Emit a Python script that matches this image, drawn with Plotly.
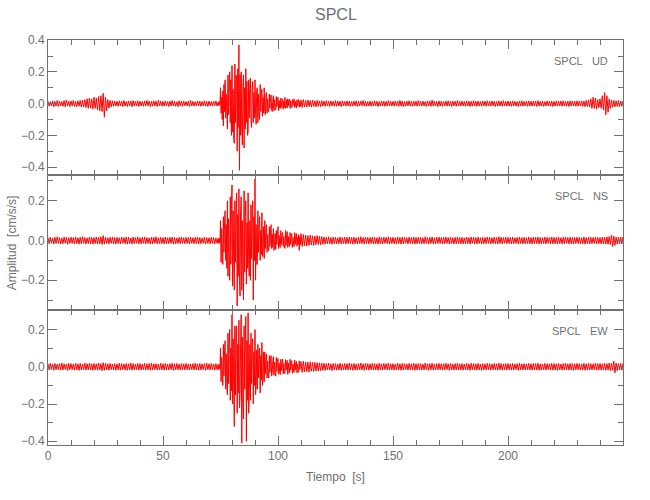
import numpy as np
import plotly.graph_objects as go
from plotly.subplots import make_subplots

# ---- data: per-second max / min of acceleration (cm/s/s), t = 0..250 s ----
seconds = list(range(0, 251))

ud_hi = [
 0.015,0.012,0.018,0.014,0.020,0.016,0.013,0.019,0.022,0.015,
 0.017,0.020,0.014,0.018,0.020,0.022,0.025,0.030,0.035,0.030,
 0.040,0.035,0.045,0.050,0.065,0.040,0.025,0.020,0.018,0.016,
 0.014,0.018,0.015,0.020,0.013,0.017,0.016,0.019,0.014,0.018,
 0.015,0.013,0.017,0.020,0.016,0.014,0.018,0.015,0.021,0.016,
 0.014,0.017,0.013,0.016,0.019,0.015,0.012,0.018,0.014,0.016,
 0.013,0.016,0.019,0.014,0.012,0.017,0.015,0.013,0.018,0.014,
 0.016,0.013,0.015,0.017,0.014,0.100,0.120,0.150,0.180,0.200,
 0.240,0.250,0.220,0.370,0.200,0.180,0.220,0.150,0.160,0.140,
 0.150,0.100,0.120,0.090,0.100,0.070,0.060,0.055,0.050,0.045,
 0.040,0.035,0.030,0.040,0.030,0.028,0.025,0.030,0.024,0.026,
 0.022,0.025,0.020,0.023,0.019,0.022,0.018,0.020,0.017,0.019,
 0.016,0.018,0.015,0.017,0.014,0.019,0.016,0.015,0.018,0.014,
 0.017,0.015,0.013,0.016,0.018,0.014,0.016,0.020,0.015,0.013,
 0.016,0.014,0.018,0.015,0.013,0.017,0.016,0.014,0.019,0.015,
 0.014,0.017,0.015,0.020,0.016,0.013,0.015,0.018,0.014,0.016,
 0.015,0.019,0.014,0.016,0.013,0.017,0.015,0.022,0.016,0.014,
 0.017,0.015,0.013,0.016,0.018,0.014,0.016,0.015,0.019,0.014,
 0.016,0.013,0.017,0.015,0.014,0.018,0.015,0.016,0.013,0.017,
 0.015,0.018,0.014,0.016,0.015,0.013,0.017,0.015,0.019,0.014,
 0.016,0.014,0.017,0.015,0.013,0.016,0.018,0.014,0.015,0.017,
 0.014,0.016,0.015,0.019,0.014,0.016,0.013,0.017,0.015,0.016,
 0.014,0.017,0.015,0.016,0.018,0.014,0.015,0.017,0.016,0.015,
 0.017,0.015,0.018,0.016,0.020,0.022,0.030,0.040,0.035,0.025,
 0.030,0.050,0.070,0.050,0.030,0.022,0.020,0.018,0.020,0.017,
 0.016]
ud_lo = [
 -0.016,-0.014,-0.020,-0.015,-0.018,-0.013,-0.017,-0.020,-0.015,-0.018,
 -0.015,-0.018,-0.020,-0.016,-0.022,-0.020,-0.025,-0.030,-0.028,-0.035,
 -0.030,-0.040,-0.045,-0.050,-0.085,-0.045,-0.028,-0.020,-0.017,-0.015,
 -0.017,-0.014,-0.019,-0.015,-0.018,-0.013,-0.020,-0.016,-0.015,-0.018,
 -0.014,-0.017,-0.015,-0.013,-0.019,-0.016,-0.014,-0.018,-0.015,-0.017,
 -0.016,-0.013,-0.018,-0.015,-0.014,-0.017,-0.019,-0.014,-0.016,-0.013,
 -0.015,-0.018,-0.014,-0.016,-0.013,-0.015,-0.017,-0.014,-0.016,-0.018,
 -0.014,-0.016,-0.013,-0.015,-0.017,-0.100,-0.140,-0.120,-0.160,-0.200,
 -0.220,-0.250,-0.300,-0.420,-0.260,-0.280,-0.200,-0.180,-0.150,-0.120,
 -0.130,-0.120,-0.100,-0.080,-0.070,-0.060,-0.050,-0.050,-0.045,-0.040,
 -0.045,-0.030,-0.035,-0.030,-0.028,-0.030,-0.026,-0.024,-0.027,-0.023,
 -0.024,-0.021,-0.022,-0.019,-0.021,-0.018,-0.020,-0.017,-0.019,-0.016,
 -0.017,-0.015,-0.018,-0.014,-0.016,-0.017,-0.015,-0.019,-0.014,-0.016,
 -0.015,-0.017,-0.016,-0.014,-0.018,-0.015,-0.013,-0.016,-0.017,-0.015,
 -0.017,-0.015,-0.014,-0.018,-0.016,-0.014,-0.017,-0.015,-0.013,-0.016,
 -0.016,-0.014,-0.017,-0.015,-0.019,-0.016,-0.014,-0.015,-0.017,-0.014,
 -0.017,-0.015,-0.016,-0.014,-0.018,-0.015,-0.017,-0.016,-0.014,-0.019,
 -0.015,-0.017,-0.014,-0.016,-0.015,-0.018,-0.014,-0.017,-0.015,-0.016,
 -0.014,-0.017,-0.015,-0.018,-0.016,-0.014,-0.017,-0.015,-0.016,-0.014,
 -0.017,-0.015,-0.016,-0.014,-0.018,-0.016,-0.015,-0.017,-0.014,-0.016,
 -0.015,-0.017,-0.014,-0.016,-0.018,-0.015,-0.016,-0.014,-0.017,-0.015,
 -0.016,-0.014,-0.018,-0.015,-0.016,-0.017,-0.015,-0.014,-0.016,-0.018,
 -0.015,-0.016,-0.014,-0.017,-0.015,-0.016,-0.018,-0.015,-0.014,-0.017,
 -0.016,-0.015,-0.017,-0.019,-0.018,-0.020,-0.030,-0.030,-0.035,-0.025,
 -0.030,-0.040,-0.070,-0.055,-0.030,-0.022,-0.020,-0.018,-0.019,-0.017,
 -0.016]

ns_hi = [
 0.014,0.017,0.013,0.016,0.019,0.015,0.012,0.018,0.016,0.014,
 0.017,0.015,0.018,0.014,0.016,0.020,0.015,0.013,0.017,0.016,
 0.015,0.018,0.016,0.019,0.025,0.017,0.014,0.016,0.018,0.015,
 0.016,0.014,0.017,0.015,0.018,0.016,0.013,0.017,0.015,0.019,
 0.014,0.016,0.018,0.015,0.013,0.017,0.016,0.019,0.014,0.016,
 0.015,0.018,0.014,0.016,0.017,0.015,0.013,0.016,0.018,0.014,
 0.016,0.015,0.017,0.014,0.016,0.018,0.015,0.013,0.016,0.015,
 0.014,0.016,0.015,0.013,0.015,0.100,0.120,0.150,0.200,0.220,
 0.280,0.200,0.240,0.260,0.220,0.250,0.200,0.240,0.180,0.200,
 0.310,0.150,0.120,0.140,0.100,0.080,0.070,0.080,0.060,0.050,
 0.070,0.050,0.040,0.050,0.045,0.040,0.035,0.040,0.035,0.030,
 0.035,0.030,0.028,0.025,0.027,0.024,0.022,0.025,0.021,0.020,
 0.018,0.016,0.019,0.015,0.017,0.016,0.014,0.018,0.015,0.017,
 0.016,0.018,0.015,0.017,0.014,0.016,0.019,0.015,0.017,0.016,
 0.015,0.017,0.016,0.014,0.018,0.015,0.017,0.016,0.019,0.015,
 0.016,0.014,0.018,0.015,0.017,0.016,0.014,0.017,0.015,0.018,
 0.015,0.017,0.016,0.014,0.019,0.015,0.016,0.018,0.014,0.016,
 0.017,0.015,0.016,0.018,0.015,0.017,0.014,0.016,0.018,0.015,
 0.016,0.014,0.017,0.015,0.018,0.016,0.015,0.017,0.014,0.016,
 0.015,0.018,0.016,0.014,0.017,0.015,0.019,0.016,0.015,0.017,
 0.016,0.015,0.017,0.014,0.016,0.018,0.015,0.016,0.014,0.017,
 0.015,0.017,0.016,0.018,0.015,0.014,0.017,0.016,0.015,0.018,
 0.016,0.015,0.017,0.014,0.016,0.018,0.015,0.017,0.016,0.015,
 0.017,0.016,0.014,0.018,0.015,0.017,0.016,0.015,0.018,0.016,
 0.015,0.017,0.016,0.018,0.020,0.028,0.022,0.017,0.016,0.018,
 0.017]
ns_lo = [
 -0.016,-0.013,-0.018,-0.015,-0.014,-0.017,-0.016,-0.013,-0.019,-0.015,
 -0.014,-0.017,-0.015,-0.018,-0.016,-0.014,-0.017,-0.015,-0.016,-0.018,
 -0.015,-0.017,-0.016,-0.020,-0.018,-0.015,-0.017,-0.014,-0.016,-0.018,
 -0.015,-0.017,-0.014,-0.016,-0.018,-0.015,-0.017,-0.016,-0.014,-0.017,
 -0.016,-0.014,-0.017,-0.015,-0.018,-0.016,-0.014,-0.017,-0.015,-0.016,
 -0.017,-0.015,-0.016,-0.014,-0.018,-0.016,-0.015,-0.017,-0.014,-0.016,
 -0.015,-0.017,-0.014,-0.016,-0.015,-0.017,-0.016,-0.014,-0.018,-0.015,
 -0.016,-0.014,-0.017,-0.015,-0.016,-0.110,-0.120,-0.140,-0.180,-0.200,
 -0.230,-0.250,-0.330,-0.280,-0.250,-0.300,-0.220,-0.180,-0.200,-0.300,
 -0.200,-0.120,-0.100,-0.080,-0.090,-0.060,-0.050,-0.040,-0.050,-0.045,
 -0.040,-0.035,-0.030,-0.040,-0.035,-0.030,-0.035,-0.030,-0.028,-0.050,
 -0.030,-0.026,-0.028,-0.024,-0.022,-0.025,-0.021,-0.020,-0.022,-0.019,
 -0.018,-0.016,-0.017,-0.019,-0.015,-0.017,-0.016,-0.018,-0.015,-0.017,
 -0.016,-0.015,-0.018,-0.016,-0.017,-0.015,-0.016,-0.018,-0.014,-0.017,
 -0.015,-0.017,-0.016,-0.018,-0.015,-0.017,-0.014,-0.016,-0.017,-0.015,
 -0.017,-0.016,-0.015,-0.018,-0.016,-0.014,-0.017,-0.015,-0.016,-0.018,
 -0.016,-0.015,-0.017,-0.016,-0.014,-0.018,-0.015,-0.017,-0.016,-0.015,
 -0.015,-0.017,-0.016,-0.014,-0.018,-0.015,-0.017,-0.016,-0.015,-0.017,
 -0.017,-0.015,-0.016,-0.018,-0.014,-0.016,-0.017,-0.015,-0.018,-0.016,
 -0.016,-0.014,-0.017,-0.015,-0.016,-0.018,-0.015,-0.017,-0.014,-0.016,
 -0.015,-0.017,-0.016,-0.014,-0.018,-0.015,-0.017,-0.016,-0.015,-0.017,
 -0.017,-0.015,-0.016,-0.018,-0.016,-0.015,-0.017,-0.014,-0.016,-0.017,
 -0.016,-0.018,-0.015,-0.017,-0.016,-0.014,-0.017,-0.016,-0.018,-0.015,
 -0.015,-0.017,-0.016,-0.018,-0.015,-0.017,-0.016,-0.014,-0.017,-0.016,
 -0.017,-0.016,-0.018,-0.019,-0.020,-0.030,-0.024,-0.018,-0.016,-0.017,
 -0.016]

ew_hi = [
 0.016,0.019,0.015,0.018,0.014,0.017,0.020,0.016,0.015,0.018,
 0.017,0.015,0.019,0.016,0.018,0.015,0.020,0.017,0.019,0.016,
 0.018,0.016,0.020,0.017,0.022,0.019,0.016,0.018,0.015,0.017,
 0.016,0.019,0.017,0.015,0.018,0.016,0.020,0.017,0.015,0.018,
 0.017,0.015,0.019,0.016,0.018,0.020,0.016,0.017,0.015,0.019,
 0.016,0.018,0.015,0.017,0.019,0.016,0.018,0.015,0.017,0.016,
 0.018,0.016,0.015,0.017,0.019,0.016,0.018,0.015,0.017,0.020,
 0.016,0.018,0.015,0.017,0.016,0.100,0.120,0.140,0.180,0.200,
 0.280,0.220,0.220,0.250,0.280,0.220,0.270,0.290,0.180,0.150,
 0.200,0.120,0.100,0.130,0.080,0.070,0.060,0.060,0.055,0.050,
 0.045,0.040,0.042,0.038,0.035,0.040,0.033,0.036,0.030,0.032,
 0.028,0.030,0.026,0.025,0.027,0.023,0.024,0.022,0.021,0.020,
 0.019,0.017,0.020,0.016,0.018,0.017,0.015,0.019,0.016,0.018,
 0.017,0.019,0.016,0.018,0.015,0.017,0.020,0.016,0.018,0.017,
 0.016,0.018,0.017,0.015,0.019,0.016,0.018,0.017,0.020,0.016,
 0.017,0.015,0.019,0.016,0.018,0.017,0.015,0.018,0.016,0.019,
 0.016,0.018,0.017,0.015,0.020,0.016,0.017,0.019,0.015,0.017,
 0.018,0.016,0.017,0.019,0.016,0.018,0.015,0.017,0.019,0.016,
 0.017,0.015,0.018,0.016,0.019,0.017,0.016,0.018,0.015,0.017,
 0.016,0.019,0.017,0.015,0.018,0.016,0.020,0.017,0.016,0.018,
 0.017,0.016,0.018,0.015,0.017,0.019,0.016,0.017,0.015,0.018,
 0.016,0.018,0.017,0.019,0.016,0.015,0.018,0.017,0.016,0.019,
 0.017,0.016,0.018,0.015,0.017,0.019,0.016,0.018,0.017,0.016,
 0.018,0.017,0.015,0.019,0.016,0.018,0.017,0.016,0.019,0.017,
 0.018,0.016,0.019,0.017,0.020,0.018,0.030,0.020,0.017,0.018,
 0.017]
ew_lo = [
 -0.017,-0.014,-0.019,-0.016,-0.015,-0.018,-0.017,-0.014,-0.020,-0.016,
 -0.015,-0.018,-0.016,-0.019,-0.017,-0.015,-0.018,-0.016,-0.017,-0.019,
 -0.016,-0.018,-0.017,-0.021,-0.019,-0.016,-0.018,-0.015,-0.017,-0.019,
 -0.016,-0.018,-0.015,-0.017,-0.019,-0.016,-0.018,-0.017,-0.015,-0.018,
 -0.017,-0.015,-0.018,-0.016,-0.019,-0.017,-0.015,-0.018,-0.016,-0.017,
 -0.018,-0.016,-0.017,-0.015,-0.019,-0.017,-0.016,-0.018,-0.015,-0.017,
 -0.016,-0.018,-0.015,-0.017,-0.016,-0.018,-0.017,-0.015,-0.019,-0.016,
 -0.017,-0.015,-0.018,-0.016,-0.017,-0.080,-0.100,-0.120,-0.150,-0.180,
 -0.200,-0.320,-0.250,-0.220,-0.410,-0.280,-0.400,-0.250,-0.180,-0.200,
 -0.150,-0.120,-0.140,-0.100,-0.080,-0.060,-0.060,-0.050,-0.045,-0.050,
 -0.040,-0.042,-0.038,-0.036,-0.040,-0.033,-0.035,-0.030,-0.032,-0.029,
 -0.030,-0.027,-0.026,-0.028,-0.024,-0.025,-0.022,-0.023,-0.021,-0.020,
 -0.019,-0.017,-0.018,-0.020,-0.016,-0.018,-0.017,-0.019,-0.016,-0.018,
 -0.017,-0.016,-0.019,-0.017,-0.018,-0.016,-0.017,-0.019,-0.015,-0.018,
 -0.016,-0.018,-0.017,-0.019,-0.016,-0.018,-0.015,-0.017,-0.018,-0.016,
 -0.018,-0.017,-0.016,-0.019,-0.017,-0.015,-0.018,-0.016,-0.017,-0.019,
 -0.017,-0.016,-0.018,-0.017,-0.015,-0.019,-0.016,-0.018,-0.017,-0.016,
 -0.016,-0.018,-0.017,-0.015,-0.019,-0.016,-0.018,-0.017,-0.016,-0.018,
 -0.018,-0.016,-0.017,-0.019,-0.015,-0.017,-0.018,-0.016,-0.019,-0.017,
 -0.017,-0.015,-0.018,-0.016,-0.017,-0.019,-0.016,-0.018,-0.015,-0.017,
 -0.016,-0.018,-0.017,-0.015,-0.019,-0.016,-0.018,-0.017,-0.016,-0.018,
 -0.018,-0.016,-0.017,-0.019,-0.017,-0.016,-0.018,-0.015,-0.017,-0.018,
 -0.017,-0.019,-0.016,-0.018,-0.017,-0.015,-0.018,-0.017,-0.019,-0.016,
 -0.016,-0.018,-0.017,-0.019,-0.016,-0.018,-0.017,-0.015,-0.018,-0.017,
 -0.018,-0.017,-0.019,-0.018,-0.020,-0.019,-0.032,-0.020,-0.017,-0.018,
 -0.017]

# ---- strong-motion window 74.00 .. 109.75 s, one sample every 0.25 s ----
detail_start = 74.0
detail_step = 0.25
ud_detail = [
 0.010,-0.012,0.014,-0.010,  0.100,-0.060,0.040,-0.100,  0.080,-0.140,0.120,-0.050,
 0.150,-0.090,0.060,-0.120, -0.160,0.180,-0.070,0.110,   0.200,-0.120,0.150,-0.200,
 0.240,-0.180,0.090,-0.220, -0.250,0.250,-0.120,0.180,   0.160,-0.300,0.220,-0.150,
 0.370,-0.420,0.180,-0.200,  0.200,-0.150,-0.260,0.120,  0.180,-0.280,0.100,-0.160,
 0.220,-0.120,0.140,-0.200, -0.180,0.150,-0.090,0.120,   0.160,-0.100,-0.150,0.080,
 0.140,-0.120,0.070,-0.090,  0.150,-0.060,-0.130,0.090,  0.100,-0.120,0.060,-0.080,
 -0.100,0.120,-0.050,0.070,  0.090,-0.080,0.040,-0.060,  0.100,-0.050,-0.070,0.060,
 0.070,-0.060,0.030,-0.050, -0.050,0.060,-0.030,0.040,   0.055,-0.040,-0.050,0.030,
 0.050,-0.045,0.025,-0.035, -0.040,0.045,-0.020,0.030,   0.040,-0.045,0.020,-0.030,
 -0.030,0.035,-0.025,0.020,  0.030,-0.035,0.015,-0.025,  0.040,-0.030,-0.020,0.025,
 -0.028,0.030,-0.015,0.020,  0.028,-0.030,0.018,-0.020, -0.026,0.025,-0.012,0.018,
 0.030,-0.024,0.015,-0.018, -0.027,0.024,-0.015,0.012,   0.026,-0.023,0.014,-0.018]
ns_detail = [
 0.012,-0.014,0.010,-0.013,  0.100,-0.110,0.060,-0.080, -0.120,0.120,-0.060,0.090,
 0.150,-0.100,0.080,-0.140,  0.200,-0.180,0.110,-0.090, -0.200,0.220,-0.120,0.160,
 0.280,-0.230,0.150,-0.120, -0.250,0.200,-0.110,0.140,   0.240,-0.330,0.130,-0.180,
 0.260,-0.200,-0.280,0.150,  0.220,-0.250,0.100,-0.150, -0.300,0.250,-0.160,0.120,
 0.200,-0.220,0.090,-0.140,  0.240,-0.120,-0.180,0.100, -0.200,0.180,-0.090,0.110,
 0.200,-0.300,0.120,-0.100,  0.310,-0.200,0.080,-0.120, -0.120,0.150,-0.060,0.080,
 0.120,-0.100,0.050,-0.070,  0.140,-0.080,-0.060,0.070, -0.090,0.100,-0.040,0.060,
 0.080,-0.060,0.030,-0.050, -0.050,0.070,-0.030,0.040,   0.080,-0.040,0.030,-0.035,
 0.060,-0.050,-0.030,0.035, -0.045,0.050,-0.020,0.030,   0.070,-0.040,0.025,-0.030,
 -0.035,0.050,-0.020,0.030,  0.040,-0.030,0.020,-0.025, -0.040,0.050,-0.025,0.030,
 0.045,-0.035,0.020,-0.025, -0.030,0.040,-0.020,0.025,   0.035,-0.035,0.015,-0.020,
 -0.030,0.040,-0.020,0.025,  0.035,-0.028,0.015,-0.020,  0.030,-0.050,0.020,-0.020]
ew_detail = [
 0.013,-0.015,0.011,-0.012,  0.100,-0.080,0.050,-0.060, -0.100,0.120,-0.050,0.080,
 0.140,-0.120,0.070,-0.090, -0.150,0.180,-0.090,0.120,   0.200,-0.180,0.100,-0.130,
 0.280,-0.200,0.150,-0.100, -0.320,0.220,-0.150,0.180,   0.220,-0.250,0.120,-0.140,
 0.250,-0.220,-0.150,0.130,  0.280,-0.410,0.160,-0.200, -0.280,0.220,-0.120,0.150,
 0.270,-0.400,0.140,-0.180,  0.290,-0.250,-0.160,0.120, -0.180,0.180,-0.090,0.110,
 0.150,-0.200,0.080,-0.100,  0.200,-0.150,-0.100,0.090, -0.120,0.120,-0.060,0.080,
 0.100,-0.140,0.060,-0.070,  0.130,-0.100,-0.060,0.080, -0.080,0.080,-0.040,0.050,
 0.070,-0.060,0.030,-0.040, -0.060,0.060,-0.030,0.040,   0.060,-0.050,-0.030,0.035,
 0.055,-0.045,0.025,-0.030, -0.050,0.050,-0.025,0.030,   0.045,-0.040,0.020,-0.030,
 -0.042,0.040,-0.020,0.025,  0.042,-0.038,0.018,-0.025, -0.036,0.038,-0.018,0.022,
 0.035,-0.040,0.020,-0.022, -0.033,0.040,-0.018,0.020,   0.033,-0.035,0.015,-0.020,
 -0.030,0.036,-0.018,0.020,  0.030,-0.032,0.015,-0.018, -0.029,0.032,-0.016,0.018]

components = ["UD", "NS", "EW"]
station = "SPCL"
y_ranges = [[-0.45, 0.401], [-0.35, 0.33], [-0.42, 0.305]]
x_ticks = [0, 50, 100, 150, 200]

series = {"UD": (ud_hi, ud_lo, ud_detail),
          "NS": (ns_hi, ns_lo, ns_detail),
          "EW": (ew_hi, ew_lo, ew_detail)}

GRAY = "#707070"
FONT = "Liberation Sans, Arial, sans-serif"

fig = make_subplots(rows=3, cols=1, shared_xaxes=True, vertical_spacing=0)

t = np.asarray(seconds, dtype=float)
for i, comp in enumerate(components):
    hi, lo, det = series[comp]
    hi = np.asarray(hi); lo = np.asarray(lo); det = np.asarray(det)
    td = detail_start + detail_step * np.arange(len(det))
    d_end = td[-1] + detail_step
    keep = (t < detail_start) | (t >= d_end)
    tb = t[keep]
    xb = np.empty(2 * len(tb)); yb = np.empty(2 * len(tb))
    xb[0::2] = tb; xb[1::2] = tb + 0.5
    yb[0::2] = hi[keep]; yb[1::2] = lo[keep]
    x = np.concatenate([xb, td])
    y = np.concatenate([yb, det])
    order = np.argsort(x, kind="stable")
    fig.add_trace(go.Scatter(x=x[order], y=y[order], mode="lines",
                             line=dict(color="#ff0000", width=1),
                             showlegend=False, hoverinfo="skip"),
                  row=i + 1, col=1)

axis_common = dict(showline=True, linecolor=GRAY, linewidth=1, mirror="allticks",
                   ticks="inside", tickcolor=GRAY, showgrid=False, zeroline=False,
                   tickfont=dict(family=FONT, size=12, color=GRAY))

for i in range(3):
    fig.update_xaxes(range=[0, 250], tickvals=x_ticks, ticklen=9,
                     minor=dict(dtick=10, tick0=0, ticklen=5, ticks="inside", tickcolor=GRAY),
                     showticklabels=(i == 2), **axis_common, row=i + 1, col=1)
    fig.update_yaxes(range=y_ranges[i], dtick=0.2, tick0=0, tickformat=".1f", ticklen=9,
                     minor=dict(dtick=0.1, tick0=0, ticklen=5, ticks="inside", tickcolor=GRAY),
                     **axis_common, row=i + 1, col=1)

annotations = []
label_y = [1 - 21 / 405, 2 / 3 - 21 / 405, 1 / 3 - 21 / 405]
for i, comp in enumerate(components):
    annotations.append(dict(text=f"{station}\u00a0\u00a0\u00a0{comp}", xref="paper", yref="paper",
                            x=(610 - 48) / 575, y=label_y[i], xanchor="right", yanchor="middle",
                            showarrow=False, font=dict(family=FONT, size=11, color=GRAY)))
annotations.append(dict(text="Tiempo\u00a0\u00a0[s]", xref="paper", yref="paper",
                        x=0.5, y=-0.057, xanchor="center", yanchor="top", showarrow=False,
                        font=dict(family=FONT, size=12, color=GRAY)))
annotations.append(dict(text="Amplitud\u00a0\u00a0[cm/s/s]", xref="paper", yref="paper",
                        x=-0.063, y=0.5, xanchor="center", yanchor="middle", textangle=-90,
                        showarrow=False, font=dict(family=FONT, size=12, color=GRAY)))
annotations.append(dict(text=station, xref="paper", yref="paper",
                        x=0.5, y=1.062, xanchor="center", yanchor="middle", showarrow=False,
                        font=dict(family=FONT, size=16, color=GRAY)))

fig.update_layout(width=650, height=500, margin=dict(l=48, r=27, t=40, b=55),
                  paper_bgcolor="white", plot_bgcolor="white",
                  annotations=annotations, showlegend=False)

# remove the default 8px page margin so the 650x500 figure fills the window exactly
fig.write_html("out.html", config={"displayModeBar": False},
               post_script="document.body.style.margin='0';")
